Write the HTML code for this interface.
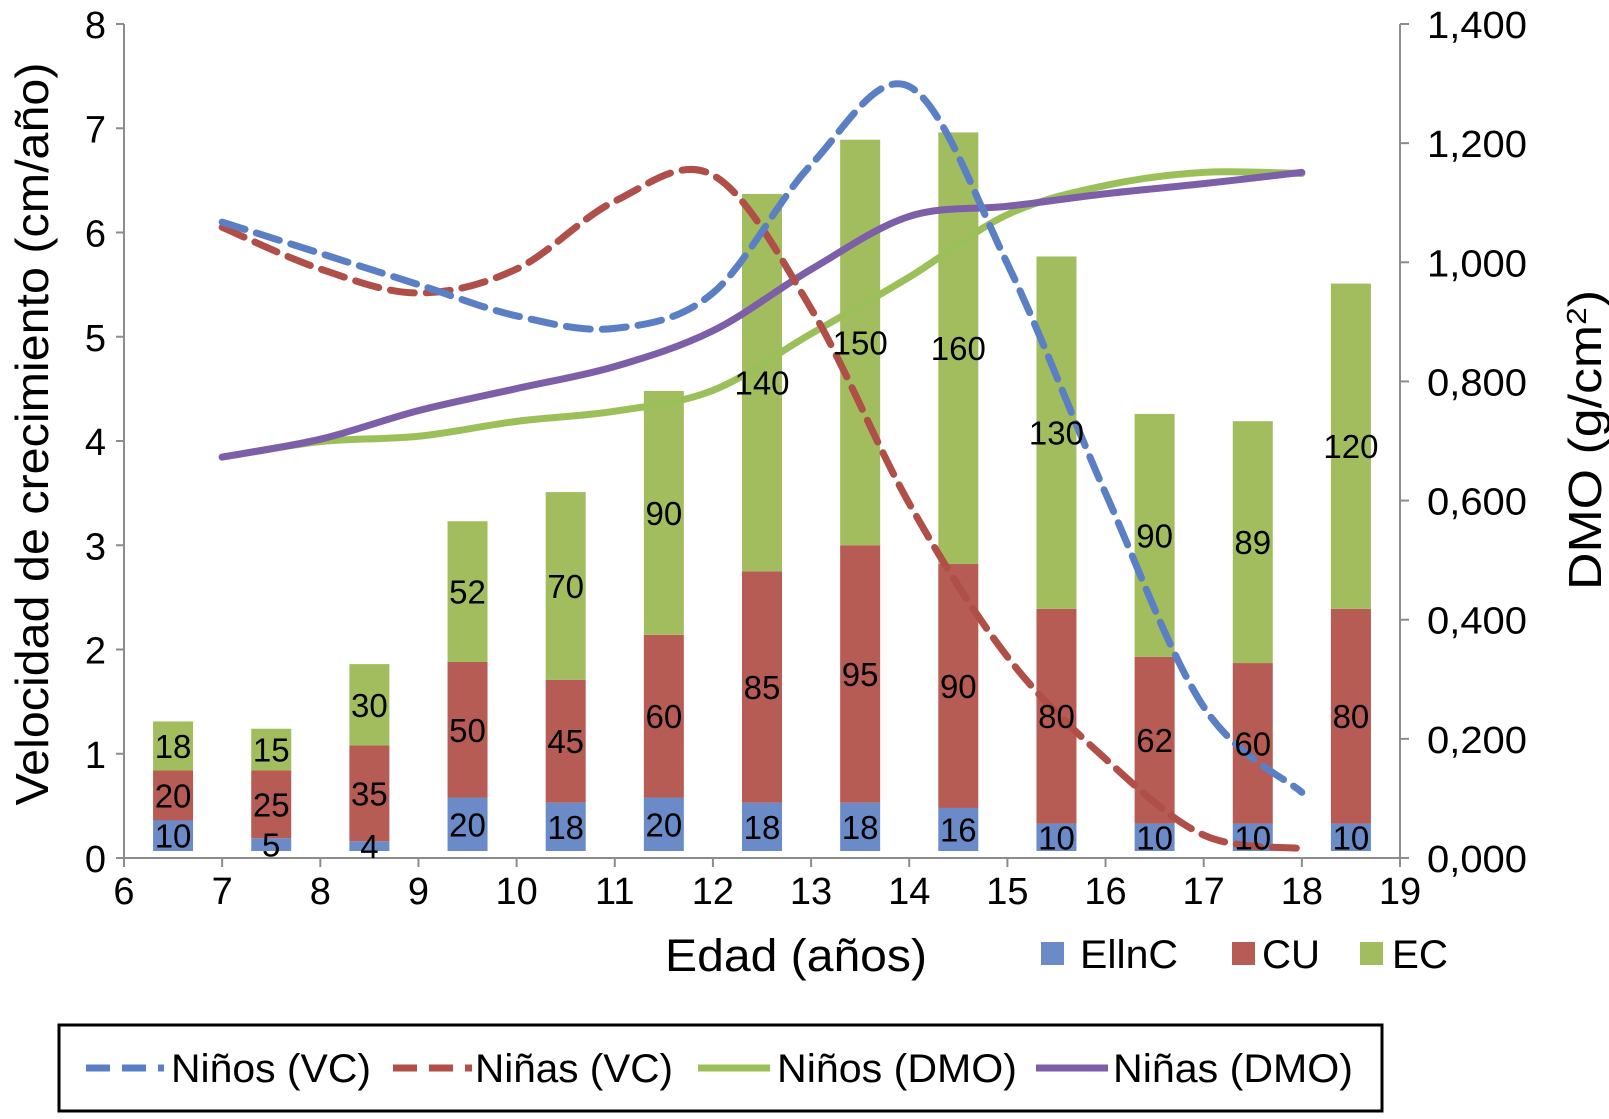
<!DOCTYPE html>
<html><head><meta charset="utf-8"><style>
body{margin:0;background:#fff;}
svg text{font-family:"Liberation Sans",Arial,sans-serif;fill:#000;}
</style></head><body>
<svg id="chart" width="1609" height="1114" viewBox="0 0 1609 1114" xmlns="http://www.w3.org/2000/svg">
<g id="axes"></g>
<g id="bars"></g>
<g id="lines"></g>
<g id="labels"></g>
<text transform="translate(48,434) rotate(-90)" text-anchor="middle" font-size="46" textLength="743" lengthAdjust="spacingAndGlyphs">Velocidad de crecimiento (cm/año)</text>
<text transform="translate(1601,440) rotate(-90)" text-anchor="middle" font-size="46" textLength="300" lengthAdjust="spacingAndGlyphs">DMO (g/cm<tspan baseline-shift="super" font-size="28">2</tspan>)</text>
<text x="796" y="971" text-anchor="middle" font-size="45" textLength="262" lengthAdjust="spacingAndGlyphs">Edad (años)</text>
<g>
<rect x="1041" y="942" width="23" height="23" fill="#6a8bc8"/>
<text x="1080" y="968" font-size="40" textLength="98" lengthAdjust="spacingAndGlyphs">EllnC</text>
<rect x="1232" y="942" width="23" height="23" fill="#b65c55"/>
<text x="1262" y="968" font-size="40" textLength="58" lengthAdjust="spacingAndGlyphs">CU</text>
<rect x="1360" y="942" width="23" height="23" fill="#a2bd5e"/>
<text x="1392" y="968" font-size="40" textLength="56" lengthAdjust="spacingAndGlyphs">EC</text>
</g>
<g>
<rect x="59" y="1025" width="1323" height="86" fill="none" stroke="#000" stroke-width="3"/>
<line x1="86" y1="1068" x2="164" y2="1068" stroke="#5b7fc4" stroke-width="7" stroke-dasharray="24 12"/>
<text x="171" y="1082" font-size="40" textLength="200" lengthAdjust="spacingAndGlyphs">Niños (VC)</text>
<line x1="393" y1="1068" x2="472" y2="1068" stroke="#b04e48" stroke-width="7" stroke-dasharray="24 12"/>
<text x="475" y="1082" font-size="40" textLength="198" lengthAdjust="spacingAndGlyphs">Niñas (VC)</text>
<line x1="698" y1="1068" x2="770" y2="1068" stroke="#9bc05a" stroke-width="7"/>
<text x="777" y="1082" font-size="40" textLength="240" lengthAdjust="spacingAndGlyphs">Niños (DMO)</text>
<line x1="1036" y1="1068" x2="1108" y2="1068" stroke="#7d5ea8" stroke-width="7"/>
<text x="1113" y="1082" font-size="40" textLength="240" lengthAdjust="spacingAndGlyphs">Niñas (DMO)</text>
</g>
</svg>
<script>
const ages = [6.5,7.5,8.5,9.5,10.5,11.5,12.5,13.5,14.5,15.5,16.5,17.5,18.5];
const ellncH = [0.36,0.19,0.16,0.58,0.53,0.58,0.53,0.53,0.48,0.33,0.33,0.33,0.33];
const cuH = [0.48,0.65,0.92,1.30,1.18,1.56,2.22,2.47,2.34,2.06,1.60,1.54,2.06];
const ecH = [0.47,0.40,0.78,1.35,1.80,2.34,3.62,3.89,4.14,3.38,2.33,2.32,3.12];
const ellncLbl = [10,5,4,20,18,20,18,18,16,10,10,10,10];
const cuLbl = [20,25,35,50,45,60,85,95,90,80,62,60,80];
const ecLbl = [18,15,30,52,70,90,140,150,160,130,90,89,120];
const lineAges = [7,8,9,10,11,12,13,14,15,16,17,18];
const ninosVC = [6.1,5.8,5.5,5.2,5.08,5.42,6.65,7.4,5.7,3.5,1.45,0.63];
const ninasVC = [6.05,5.65,5.42,5.65,6.3,6.55,5.27,3.4,1.93,0.95,0.22,0.09];
const ninosDMO = [0.673,0.699,0.708,0.733,0.75,0.785,0.88,0.975,1.08,1.129,1.151,1.149];
const ninasDMO = [0.673,0.703,0.751,0.788,0.825,0.885,0.988,1.077,1.094,1.115,1.132,1.151];
const xTicks = [6,7,8,9,10,11,12,13,14,15,16,17,18,19];
const yTicks = [0,1,2,3,4,5,6,7,8];
const y2Ticks = [0,0.2,0.4,0.6,0.8,1.0,1.2,1.4];
const y2TickLbl = ["0,000","0,200","0,400","0,600","0,800","1,000","1,200","1,400"];

const NS='http://www.w3.org/2000/svg';
const X0=124,X1=1400,Y0=858,Y1=24;
const xS=v=>X0+(v-6)/13*(X1-X0);
const yL=v=>Y0-v/8*(Y0-Y1);
const yR=v=>Y0-v/1.4*(Y0-Y1);
function mk(tag,attrs,parent){const e=document.createElementNS(NS,tag);for(const k in attrs)e.setAttribute(k,attrs[k]);parent.appendChild(e);return e;}
const axes=document.getElementById('axes');
let e;
e=mk('line',{x1:X0,y1:Y1,x2:X0,y2:Y0,stroke:'#8c8c8c','stroke-width':2},axes);


e=mk('line',{x1:X1,y1:Y1,x2:X1,y2:Y0,stroke:'#8c8c8c','stroke-width':2},axes);


e=mk('line',{x1:X0,y1:Y0,x2:X1,y2:Y0,stroke:'#8c8c8c','stroke-width':2},axes);


xTicks.forEach(t=>{
  const x=xS(t);
  e=mk('line',{x1:x,y1:Y0,x2:x,y2:Y0+9,stroke:'#8c8c8c','stroke-width':2},axes);
  
  
  e=mk('text',{x:x,y:Y0+46,'text-anchor':'middle','font-size':38},axes);
  e.textContent=t;
  
  
});
yTicks.forEach(t=>{
  const y=yL(t);
  e=mk('line',{x1:X0-8,y1:y,x2:X0,y2:y,stroke:'#8c8c8c','stroke-width':2},axes);
  
  
  e=mk('text',{x:106,y:y+14,'text-anchor':'end','font-size':38},axes);
  e.textContent=t;
  
  
});
y2Ticks.forEach((t,i)=>{
  const y=yR(t);
  e=mk('line',{x1:X1,y1:y,x2:X1+9,y2:y,stroke:'#8c8c8c','stroke-width':2},axes);
  
  
  e=mk('text',{x:1427,y:y+14,'font-size':38,textLength:100,lengthAdjust:'spacingAndGlyphs'},axes);
  e.textContent=y2TickLbl[i];
  
  
});
const bars=document.getElementById('bars'),labels=document.getElementById('labels');
const BW=40, off=7;
ages.forEach((a,i)=>{
  const x=xS(a)-BW/2;
  const segs=[[ellncH[i],'#6a8bc8',ellncLbl[i],'ellnc'],[cuH[i],'#b65c55',cuLbl[i],'cu'],[ecH[i],'#a2bd5e',ecLbl[i],'ec']];
  let base=0;
  segs.forEach(s=>{
    const yb=yL(base)-(base===0?off:0), yt=yL(base+s[0]);
    e=mk('rect',{x:x,y:yt,width:BW,height:yb-yt,fill:s[1]},bars);
    
    
    e=mk('text',{x:xS(a),y:(yt+yb)/2+12,'text-anchor':'middle','font-size':33},labels);
    e.textContent=s[2];
    
    
    base+=s[0];
  });
});
function smooth(pts){
  let d='M'+pts[0][0]+','+pts[0][1];
  for(let i=0;i<pts.length-1;i++){
    const p0=pts[i-1]||pts[i],p1=pts[i],p2=pts[i+1],p3=pts[i+2]||p2;
    const c1=[p1[0]+(p2[0]-p0[0])/6,p1[1]+(p2[1]-p0[1])/6];
    const c2=[p2[0]-(p3[0]-p1[0])/6,p2[1]-(p3[1]-p1[1])/6];
    d+=' C'+c1+' '+c2+' '+p2;
  }
  return d;
}
const lines=document.getElementById('lines');
const series=[[ninosDMO,yR,'#9bc05a',null,'line-ninos-dmo'],[ninasDMO,yR,'#7d5ea8',null,'line-ninas-dmo'],[ninasVC,yL,'#b04e48','24 12','line-ninas-vc'],[ninosVC,yL,'#5b7fc4','24 12','line-ninos-vc']];
series.forEach(s=>{
  const pts=lineAges.map((a,i)=>[xS(a),s[1](s[0][i])]);
  const at={d:smooth(pts),fill:'none',stroke:s[2],'stroke-width':7,'stroke-linecap':'round'};
  if(s[3])at['stroke-dasharray']=s[3];
  e=mk('path',at,lines);
  
  
});
</script>
</body></html>
